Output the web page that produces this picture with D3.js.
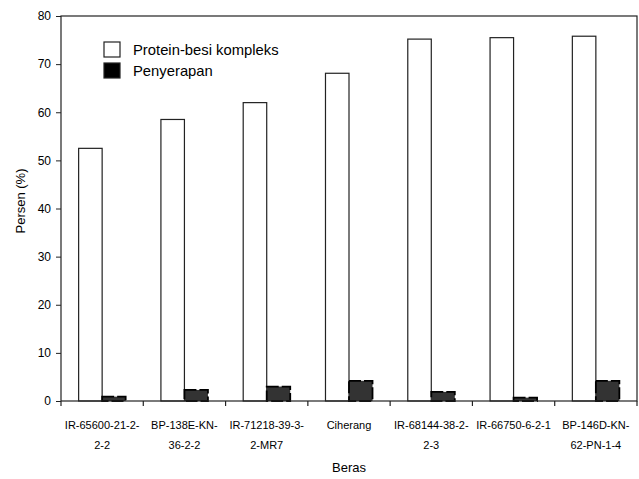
<!DOCTYPE html>
<html>
<head>
<meta charset="utf-8">
<script src="https://cdn.jsdelivr.net/npm/d3@7"></script>
<style>
  body { margin: 0; background: #fff; }
  svg text { font-family: "Liberation Sans", Arial, sans-serif; fill: #000; }
</style>
</head>
<body>
<div id="chart"></div>
<script>
var width = 639, height = 479;
var margin = {top: 16, right: 2, bottom: 78, left: 61};

// data
var varieties = ["IR-65600-21-2-2-2", "BP-138E-KN-36-2-2", "IR-71218-39-3-2-MR7", "Ciherang",
                 "IR-68144-38-2-2-3", "IR-66750-6-2-1", "BP-146D-KN-62-PN-1-4"];
// how the labels break into two lines
var labelLines = [["IR-65600-21-2-", "2-2"], ["BP-138E-KN-", "36-2-2"], ["IR-71218-39-3-", "2-MR7"],
                  ["Ciherang"], ["IR-68144-38-2-", "2-3"], ["IR-66750-6-2-1"], ["BP-146D-KN-", "62-PN-1-4"]];
var proteinBesi = [52.5, 58.5, 62.0, 68.1, 75.2, 75.5, 75.8];
var penyerapan = [0.9, 2.3, 3.0, 4.2, 1.9, 0.7, 4.2];
var seriesNames = ["Protein-besi kompleks", "Penyerapan"];
var yTicks = [0, 10, 20, 30, 40, 50, 60, 70, 80];

var svg = d3.select("#chart").append("svg")
    .attr("width", width)
    .attr("height", height);

var x = d3.scaleBand()
    .domain(varieties)
    .range([margin.left, width - margin.right])
    .paddingInner(0)
    .paddingOuter(0);

var inner = d3.scaleBand()
    .domain([0, 1])
    .range([0, x.bandwidth()])
    .paddingOuter(0.75)
    .paddingInner(0);

var y = d3.scaleLinear()
    .domain([0, 80])
    .range([height - margin.bottom, margin.top]);

var rows = varieties.map(function(v, i) {
  return {name: v, vals: [proteinBesi[i], penyerapan[i]]};
});

// bars
var groups = svg.append("g")
  .selectAll("g")
  .data(rows)
  .enter()
  .append("g")
  .attr("transform", function(d) { return "translate(" + x(d.name) + ",0)"; });

groups.append("rect")
  .attr("x", inner(0))
  .attr("y", function(d) { return y(d.vals[0]); })
  .attr("width", inner.bandwidth())
  .attr("height", function(d) { return y(0) - y(d.vals[0]); })
  .attr("fill", "#fff")
  .attr("stroke", "#222")
  .attr("stroke-width", 1.2);

groups.append("rect")
  .attr("x", inner(1))
  .attr("y", function(d) { return y(d.vals[1]); })
  .attr("width", inner.bandwidth())
  .attr("height", function(d) { return y(0) - y(d.vals[1]); })
  .attr("fill", "#333")
  .attr("stroke", "#000")
  .attr("stroke-width", 1.8)
  .attr("stroke-dasharray", "12,3");

// frame
svg.append("rect")
  .attr("x", margin.left)
  .attr("y", margin.top)
  .attr("width", width - margin.left - margin.right)
  .attr("height", y(0) - margin.top)
  .attr("fill", "none")
  .attr("stroke", "#222")
  .attr("stroke-width", 1.2);

// y axis
var yAxis = svg.append("g")
  .attr("transform", "translate(" + margin.left + ",0)")
  .call(d3.axisLeft(y).tickValues(yTicks).tickSize(5).tickPadding(5).tickSizeOuter(0));
yAxis.select(".domain").remove();
yAxis.selectAll("text").style("font-size", "12px").attr("font-family", null);
yAxis.selectAll("line").attr("stroke", "#222");

// x axis: ticks at category boundaries
var boundaries = varieties.map(function(v) { return x(v); }).concat([x.range()[1]]);
svg.append("g")
  .selectAll("line")
  .data(boundaries)
  .enter()
  .append("line")
  .attr("x1", function(d) { return d; })
  .attr("x2", function(d) { return d; })
  .attr("y1", y(0))
  .attr("y2", y(0) + 5)
  .attr("stroke", "#222")
  .attr("stroke-width", 1.2);

var xl = svg.append("g")
  .selectAll("text")
  .data(labelLines)
  .enter()
  .append("text")
  .attr("text-anchor", "middle")
  .style("font-size", "11px");
xl.each(function(lines, i) {
  var t = d3.select(this);
  lines.forEach(function(s, j) {
    t.append("tspan")
      .attr("x", x(varieties[i]) + x.bandwidth() / 2)
      .attr("y", y(0) + 28 + j * 20)
      .text(s);
  });
});

// axis titles
svg.append("text")
  .attr("x", (margin.left + width - margin.right) / 2)
  .attr("y", 472)
  .attr("text-anchor", "middle")
  .style("font-size", "13px")
  .text("Beras");

svg.append("text")
  .attr("transform", "translate(25,201) rotate(-90)")
  .attr("text-anchor", "middle")
  .style("font-size", "13px")
  .text("Persen (%)");

// legend
var legend = svg.append("g")
  .selectAll("g")
  .data(seriesNames)
  .enter()
  .append("g")
  .attr("transform", function(d, i) { return "translate(104," + (42 + i * 21) + ")"; });

legend.append("rect")
  .attr("width", 16)
  .attr("height", 15)
  .attr("fill", function(d, i) { return i === 0 ? "#fff" : "#000"; })
  .attr("stroke", "#222")
  .attr("stroke-width", 1.2);

legend.append("text")
  .attr("x", 29)
  .attr("y", 12.5)
  .style("font-size", "14.8px")
  .text(function(d) { return d; });
</script>
</body>
</html>
